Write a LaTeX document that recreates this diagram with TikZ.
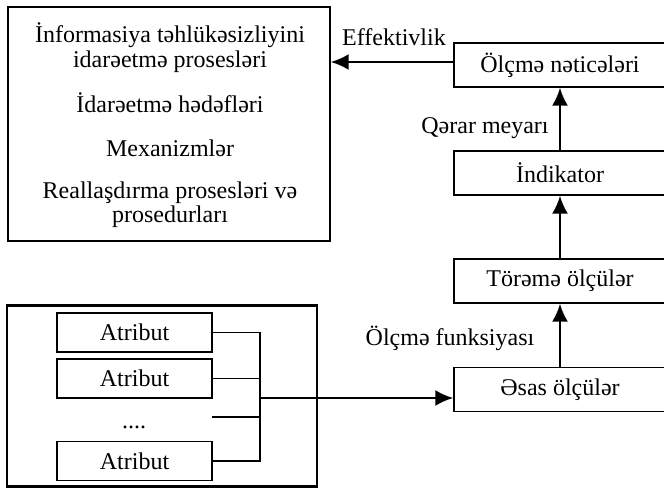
\documentclass[tikz,border=0pt]{standalone}
\usepackage{fontspec}
\setmainfont{Liberation Serif}
\usepackage{tikz}
\usetikzlibrary{arrows.meta}
\tikzset{stagebox/.style={draw, line width=1.4pt, minimum width=212pt, minimum height=44pt},
 attrbox/.style={draw, line width=1.4pt, minimum width=155pt, minimum height=39pt},
 wire/.style={line width=1.4pt},
 flow/.style={line width=2.2pt, -{Latex[length=18pt,width=16pt]}},
 lbl/.style={inner sep=0pt},
 }

\begin{document}
\begin{tikzpicture}[x=1pt, y=-1pt, font=\fontsize{24}{27}\selectfont]
        \useasboundingbox (0,0) rectangle (664,488);
        \node[draw, line width=1.4pt, minimum width=322pt, minimum height=234pt] (mgmt) at (169,124) {};
        \node[lbl] (m1) at (170,35) {İnformasiya təhlükəsizliyini};
        \node[lbl] (m2) at (170,62) {idarəetmə prosesləri};
        \node[lbl] (m3) at (170,103) {İdarəetmə hədəfləri};
        \node[lbl] (m4) at (170,148) {Mexanizmlər};
        \node[lbl] (m5) at (170,193) {Reallaşdırma prosesləri və};
        \node[lbl] (m6) at (170,217) {prosedurları};
        \node[stagebox] (results) at (560,65) {Ölçmə nəticələri};
        \node[stagebox] (indicator) at (560,173) {İndikator};
        \node[stagebox] (derived) at (560,281) {Törəmə ölçülər};
        \node[stagebox] (basic) at (560,389.5) {Əsas ölçülər};
        \node[lbl] (eff) at (394,37) {Effektivlik};
        \node[lbl] (crit) at (485,128) {Qərar meyarı};
        \node[lbl] (func) at (450,338) {Ölçmə funksiyası};
        \node[draw, line width=2.6pt, minimum width=310pt, minimum height=181pt] (entity) at (162,396) {};
        \node[attrbox] (a1) at (134.5,332.5) {Atribut};
        \node[attrbox] (a2) at (134.5,378.5) {Atribut};
        \node[lbl] (dots) at (134,427) {....};
        \node[attrbox] (a3) at (134.5,461) {Atribut};
        \coordinate (gap) at (212,417);
        \coordinate (hub) at (260,398);
        \draw[wire] (a1.east) -- (a1.east -| hub) -- (a3.east -| hub) -- (a3.east);
        \draw[wire] (a2.east) -- (a2.east -| hub);
        \draw[wire] (gap) -- (gap -| hub);
        \draw[flow] (hub) -- (hub -| basic.west);
        \draw[flow] (basic) -- (derived);
        \draw[flow] (derived) -- (indicator);
        \draw[flow] (indicator) -- (results);
        \draw[flow] (results.west |- 0,62) -- (mgmt.east |- 0,62);
    \end{tikzpicture}
\end{document}
